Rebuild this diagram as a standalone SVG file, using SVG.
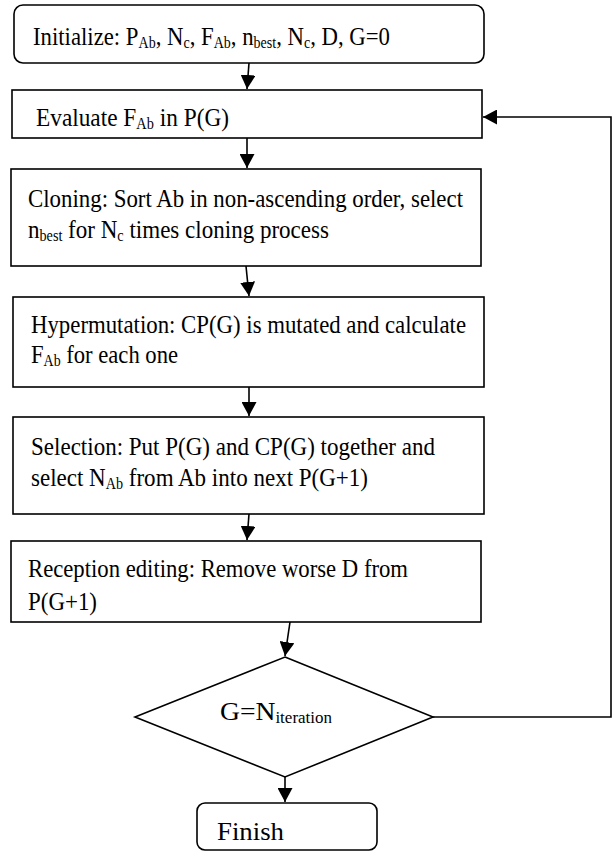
<svg xmlns="http://www.w3.org/2000/svg" width="613" height="852" viewBox="0 0 613 852">
<defs>
<style>
.box{fill:#fff;stroke:#000;stroke-width:1.6}
.t{font-family:'Liberation Serif','Times New Roman','DejaVu Serif',serif;font-size:26px;fill:#000}
.s{font-size:16px}
.c{fill:none;stroke:#000;stroke-width:1.6}
</style>
<marker id="ah" viewBox="0 0 14 15" refX="14" refY="7.5" markerWidth="14" markerHeight="15" markerUnits="userSpaceOnUse" orient="auto">
<path d="M0,0 L14,7.5 L0,15 z" fill="#000"/>
</marker>
</defs>
<rect width="613" height="852" fill="#fff"/>
<g id="connectors">
<line class="c" x1="249" y1="63" x2="247" y2="89" marker-end="url(#ah)"/>
<line class="c" x1="247" y1="138" x2="247" y2="168" marker-end="url(#ah)"/>
<line class="c" x1="246" y1="266" x2="249" y2="296" marker-end="url(#ah)"/>
<line class="c" x1="249" y1="387" x2="249" y2="416" marker-end="url(#ah)"/>
<line class="c" x1="249" y1="514" x2="247" y2="540" marker-end="url(#ah)"/>
<line class="c" x1="290" y1="622" x2="285" y2="656" marker-end="url(#ah)"/>
<line class="c" x1="285" y1="777" x2="285" y2="802" marker-end="url(#ah)"/>
<polyline class="c" points="433,717 611,717 611,117 483,117" marker-end="url(#ah)"/>
</g>
<g id="init">
<rect class="box" x="14" y="5" width="470" height="58" rx="9"/>
<text class="t" x="33" y="45" textLength="357" lengthAdjust="spacingAndGlyphs">Initialize: P<tspan class="s" dy="3">Ab</tspan><tspan dy="-3">, N</tspan><tspan class="s" dy="3">c</tspan><tspan dy="-3">, F</tspan><tspan class="s" dy="3">Ab</tspan><tspan dy="-3">, n</tspan><tspan class="s" dy="3">best</tspan><tspan dy="-3">, N</tspan><tspan class="s" dy="3">c</tspan><tspan dy="-3">, D, G=0</tspan></text>
</g>
<g id="evaluate">
<rect class="box" x="12" y="90" width="470" height="48"/>
<text class="t" x="36" y="126" textLength="193" lengthAdjust="spacingAndGlyphs">Evaluate F<tspan class="s" dy="3">Ab</tspan><tspan dy="-3"> in P(G)</tspan></text>
</g>
<g id="cloning">
<rect class="box" x="11" y="169" width="470" height="97"/>
<text class="t" x="28" y="207" textLength="435" lengthAdjust="spacingAndGlyphs">Cloning: Sort Ab in non-ascending order, select</text>
<text class="t" x="28" y="238" textLength="301" lengthAdjust="spacingAndGlyphs">n<tspan class="s" dy="3">best</tspan><tspan dy="-3"> for N</tspan><tspan class="s" dy="3">c</tspan><tspan dy="-3"> times cloning process</tspan></text>
</g>
<g id="hypermutation">
<rect class="box" x="13" y="297" width="471" height="90"/>
<text class="t" x="31" y="333" textLength="435" lengthAdjust="spacingAndGlyphs">Hypermutation: CP(G) is mutated and calculate</text>
<text class="t" x="31" y="363" textLength="147" lengthAdjust="spacingAndGlyphs">F<tspan class="s" dy="3">Ab</tspan><tspan dy="-3"> for each one</tspan></text>
</g>
<g id="selection">
<rect class="box" x="13" y="417" width="471" height="97"/>
<text class="t" x="31" y="455" textLength="404" lengthAdjust="spacingAndGlyphs">Selection: Put P(G) and CP(G) together and</text>
<text class="t" x="31" y="486" textLength="337" lengthAdjust="spacingAndGlyphs">select N<tspan class="s" dy="3">Ab</tspan><tspan dy="-3"> from Ab into next P(G+1)</tspan></text>
</g>
<g id="reception">
<rect class="box" x="11" y="541" width="470" height="81"/>
<text class="t" x="28" y="577" textLength="380" lengthAdjust="spacingAndGlyphs">Reception editing: Remove worse D from</text>
<text class="t" x="28" y="610" textLength="69" lengthAdjust="spacingAndGlyphs">P(G+1)</text>
</g>
<g id="decision">
<polygon class="box" points="285,657 433,717 285,777 135,717"/>
<text class="t" x="220" y="720" textLength="112" lengthAdjust="spacingAndGlyphs">G=N<tspan class="s" dy="3">iteration</tspan></text>
</g>
<g id="finish">
<rect class="box" x="197" y="803" width="180" height="47" rx="8"/>
<text class="t" x="217" y="840" textLength="67" lengthAdjust="spacingAndGlyphs">Finish</text>
</g>
</svg>
